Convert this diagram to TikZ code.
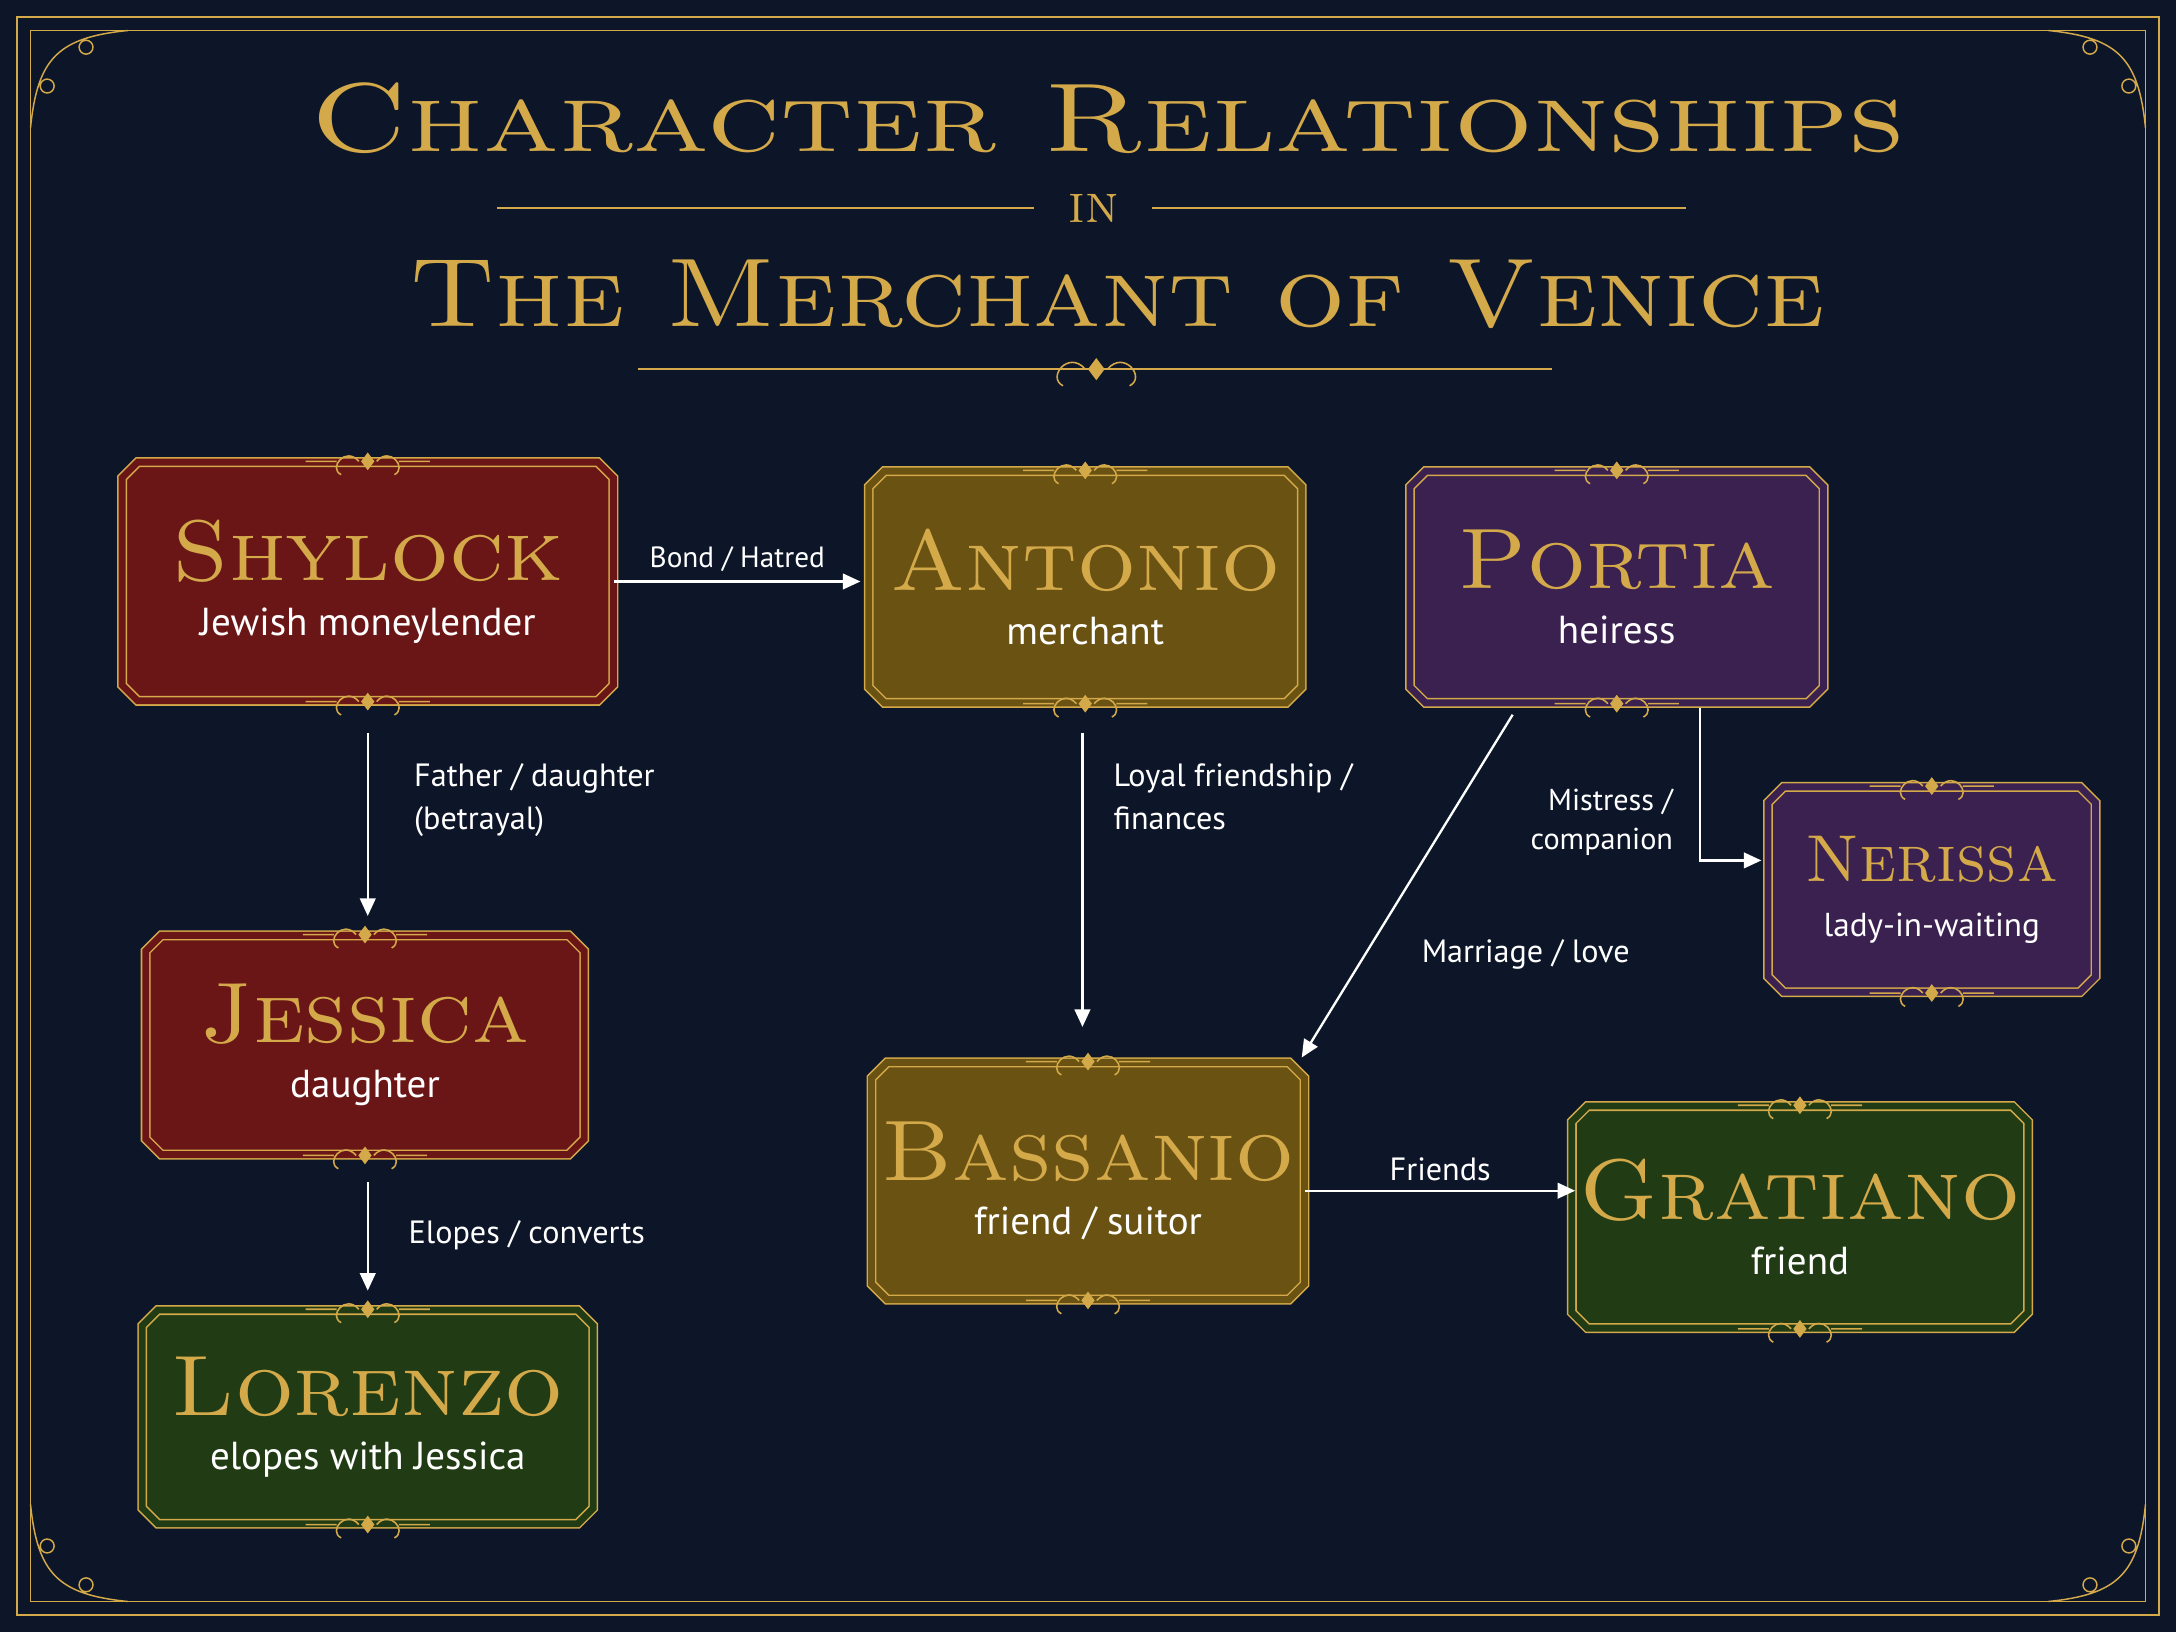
\documentclass[tikz,border=0pt]{standalone}
\usepackage{fontspec}
\usepackage{graphicx}
\newfontfamily\labfont{PT Sans}
\usetikzlibrary{shapes.misc,arrows.meta}
\definecolor{bg}{HTML}{0D1628}
\definecolor{gold}{HTML}{D4A94A}
\definecolor{cred}{HTML}{6B1616}
\definecolor{colive}{HTML}{6A5212}
\definecolor{cpurp}{HTML}{3A2150}
\definecolor{cgreen}{HTML}{213C14}
\tikzset{
  box/.style={chamfered rectangle, chamfered rectangle xsep=8pt, chamfered rectangle ysep=8pt,
    draw=gold, double=#1, double distance=7pt, line width=1.6pt, fill=#1, align=center, inner sep=0pt,
    font=\fontsize{40}{56}\selectfont},
  rel/.style={-{Triangle[length=18pt,width=16pt]}, white, line width=2.4pt},
  lab/.style={text=white, font=\labfont\fontsize{33}{44}\selectfont, align=left},
  orn/.pic={\fill[gold] (0,-4) -- (3,0) -- (0,4) -- (-3,0) -- cycle;
    \draw[gold, line width=1.6pt] (-4,0) .. controls (-10,-7) and (-18,3) .. (-12,6) (4,0) .. controls (10,-7) and (18,3) .. (12,6)
     (-14,0) -- (-28,0) (14,0) -- (28,0);}
}
\newcommand{\nmx}[1]{{\fontsize{88}{90}\selectfont\scshape\color{gold}\scalebox{1.08}[1]{#1}}}
\newcommand{\sub}[1]{\\{\labfont\fontsize{40}{46}\selectfont\color{white}#1}}
\begin{document}
\begin{tikzpicture}[x=0.05cm,y=-0.05cm]
\fill[bg] (0,0) rectangle (1568,1176);
\useasboundingbox (0,0) rectangle (1568,1176);
\draw[gold, line width=2pt] (12,12) rectangle (1556,1164);
\draw[gold, line width=1pt] (22,22) rectangle (1546,1154);
\foreach \cx/\cy/\sx/\sy in {22/22/1/1,1546/22/-1/1,22/1154/1/-1,1546/1154/-1/-1}{
  \draw[gold, line width=1.5pt] (\cx,\cy+70*\sy) .. controls (\cx+5*\sx,\cy+20*\sy) and (\cx+20*\sx,\cy+5*\sy) .. (\cx+70*\sx,\cy)
   (\cx+12*\sx,\cy+40*\sy) circle (5) (\cx+40*\sx,\cy+12*\sy) circle (5);}
% Title
\node[text=gold, font=\fontsize{100}{104}\selectfont\scshape] (t1) at (798,85) {\scalebox{1.27}[1]{Character Relationships}};
\node[text=gold, font=\fontsize{56}{58}\selectfont\scshape] (t2) at (788,150) {in};
\node[text=gold, font=\fontsize{100}{104}\selectfont\scshape] (t3) at (805,212) {\scalebox{1.13}[1]{The Merchant of Venice}};
\draw[gold, line width=1.4pt] (358,150) -- (745,150) (830,150) -- (1215,150) (460,266) -- (1118,266);
\pic[scale=2] at (790,266) {orn};
% nodes
\node[box=cred, minimum width=354*0.05cm, minimum height=172*0.05cm] (shy) at (265,419) {\nmx{Shylock}\sub{Jewish moneylender}};
\node[box=colive, minimum width=312*0.05cm, minimum height=167*0.05cm] (ant) at (782,423) {\nmx{Antonio}\sub{merchant}};
\node[box=cpurp, minimum width=298*0.05cm, minimum height=167*0.05cm] (por) at (1165,423) {\nmx{Portia}\sub{heiress}};
\node[box=cred, minimum width=316*0.05cm, minimum height=158*0.05cm] (jes) at (263,753) {\nmx{Jessica}\sub{daughter}};
\node[box=cpurp, minimum width=236*0.05cm, minimum height=148*0.05cm] (ner) at (1392,641) {{\fontsize{68}{72}\selectfont\scshape\color{gold}Nerissa}\\{\labfont\fontsize{34}{40}\selectfont\color{white}lady-in-waiting}};
\node[box=colive, minimum width=312*0.05cm, minimum height=171*0.05cm] (bas) at (784,851) {\nmx{Bassanio}\sub{friend / suitor}};
\node[box=cgreen, minimum width=310*0.05cm, minimum height=160*0.05cm] (gra) at (1297,877) {\nmx{Gratiano}\sub{friend}};
\node[box=cgreen, minimum width=325*0.05cm, minimum height=154*0.05cm] (lor) at (265,1021) {\nmx{Lorenzo}\sub{elopes with Jessica}};
\foreach \n in {shy,ant,por,jes,ner,bas,gra,lor}{\pic[scale=1.6] at (\n.north) {orn}; \pic[scale=1.6] at (\n.south) {orn};}
% relations
\coordinate (sb) at (265,528);
\coordinate (jt) at (265,660);
\coordinate (jb) at (265,852);
\coordinate (lt) at (265,930);
\coordinate (ab) at (780,528);
\coordinate (bt) at (780,740);
\coordinate (pb) at (1090,515);
\coordinate (pb2) at (1225,510);
\coordinate (bne) at (938,762);
\coordinate (bend) at (1225,620);
\draw[rel] (shy.east|-0,419) -- (620,419) node[midway, above=6pt, lab, font=\labfont\fontsize{30}{36}\selectfont] {Bond / Hatred};
\draw[rel] (sb) -- (jt);
\node[lab, anchor=north west] (l1) at (296,548) {Father / daughter\\(betrayal)};
\draw[rel] (jb) -- (lt);
\node[lab, anchor=west] (l2) at (292,890) {Elopes / converts};
\draw[rel] (ab) -- (bt);
\node[lab, anchor=north west] (l3) at (800,548) {Loyal friendship /\\finances};
\draw[rel] (pb) -- (bne);
\node[lab, anchor=west] (l4) at (1022,688) {Marriage / love};
\draw[rel] (pb2) -- (bend) -- ([xshift=-6]ner.west|-bend);
\node[lab, anchor=north east, align=right, font=\labfont\fontsize{31}{40}\selectfont] (l5) at (1208,566) {Mistress /\\companion};
\draw[rel] (bas.east|-0,858) -- (1135,858) node[midway, above=6pt, lab] {Friends};
\end{tikzpicture}
\end{document}
